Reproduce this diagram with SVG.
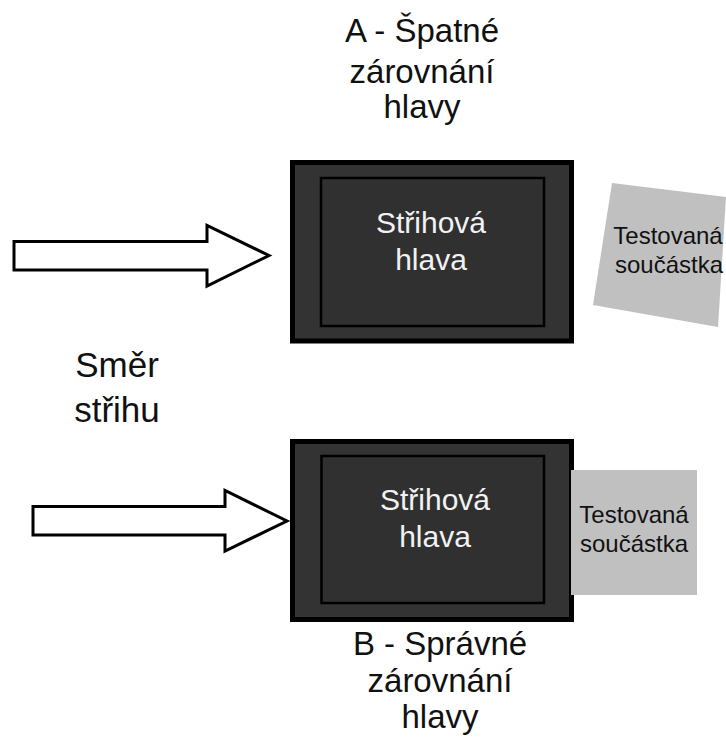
<svg xmlns="http://www.w3.org/2000/svg" width="726" height="742" viewBox="0 0 726 742">
<style>
.t{font-family:"Liberation Sans",Arial,sans-serif;text-anchor:middle}
.lbl{font-size:33px;fill:#111}
.head{font-size:30px;fill:#f2f2f2}
.part{font-size:24px;fill:#111}
.outer{fill:#333;stroke:#000;stroke-width:5}
.inner{fill:#303030;stroke:#000;stroke-width:2.5}
.arrow{fill:#fff;stroke:#000;stroke-width:3;stroke-linejoin:miter}
.gray{fill:#c0c0c0}
</style>
<rect width="726" height="742" fill="#fff"/>
<g id="label-a">
<text class="t lbl" x="422" y="42">A - Špatné</text>
<text class="t lbl" x="422" y="83">zárovnání</text>
<text class="t lbl" x="422" y="118">hlavy</text>
</g>
<g id="head-a">
<rect class="outer" x="292.5" y="162.5" width="279" height="178.5"/>
<rect class="inner" x="321" y="178" width="223" height="148"/>
<text class="t head" x="431" y="233">Střihová</text>
<text class="t head" x="431" y="270">hlava</text>
</g>
<g id="part-a">
<polygon class="gray" points="612,183 726,197 718,327 593,305"/>
<text class="t part" x="668" y="244">Testovaná</text>
<text class="t part" x="669" y="273">součástka</text>
</g>
<g id="direction">
<text class="t" x="117" y="377" font-size="35" fill="#111">Směr</text>
<text class="t" x="117" y="422" font-size="35" fill="#111">střihu</text>
</g>
<g id="head-b">
<rect class="outer" x="292.5" y="441.5" width="279" height="178"/>
<rect class="inner" x="321.5" y="456" width="222.5" height="147"/>
<text class="t head" x="435" y="510">Střihová</text>
<text class="t head" x="435" y="547">hlava</text>
</g>
<g id="part-b">
<rect class="gray" x="571" y="470" width="126" height="125"/>
<text class="t part" x="634" y="523">Testovaná</text>
<text class="t part" x="634" y="552">součástka</text>
</g>
<g id="label-b">
<text class="t lbl" x="440" y="655">B - Správné</text>
<text class="t lbl" x="440" y="692">zárovnání</text>
<text class="t lbl" x="440" y="728">hlavy</text>
</g>
<g id="connectors">
<polygon class="arrow" points="14,241.5 207,241.5 207,225.5 269,255.5 207,286 207,270 14,270"/>
<polygon class="arrow" points="33,506.5 225,506.5 225,490.5 287,521 225,551 225,535 33,535"/>
</g>
</svg>
